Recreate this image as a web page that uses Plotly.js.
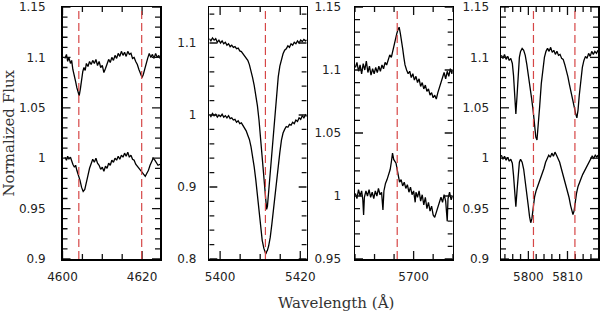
<!DOCTYPE html>
<html>
<head>
<meta charset="utf-8">
<script src="https://cdn.plot.ly/plotly-3.0.1.min.js"></script>
<style>html,body{margin:0;padding:0;background:#fff;}#chart{width:600px;height:313px;}</style>
</head>
<body>
<div id="chart"></div>
<script>
// ---------- Panel 1 (N V 4604, 4620) ----------
const p1TopWave = [4600.6,4601.0,4601.3,4601.6,4602.0,4602.3,4602.6,4603.0,4603.3,4603.6,4603.9,4604.2,4604.5,4604.8,4605.1,4605.4,4605.7,4606.0,4606.4,4606.8,4607.2,4607.6,4608.0,4608.4,4608.8,4609.2,4609.6,4610.0,4610.4,4610.8,4611.2,4611.6,4612.0,4612.4,4612.8,4613.2,4613.6,4614.0,4614.4,4614.8,4615.2,4615.6,4616.0,4616.4,4616.8,4617.2,4617.6,4618.0,4618.4,4618.8,4619.2,4619.6,4620.0,4620.3,4620.6,4621.0,4621.4,4621.8,4622.2,4622.6,4623.0,4623.4,4623.8,4624.2,4624.5];
const p1TopFlux = [1.099,1.103,1.096,1.100,1.094,1.097,1.088,1.082,1.076,1.070,1.066,1.062,1.069,1.078,1.086,1.090,1.087,1.094,1.091,1.096,1.093,1.097,1.094,1.098,1.092,1.096,1.090,1.092,1.085,1.089,1.094,1.098,1.095,1.100,1.097,1.102,1.099,1.104,1.101,1.106,1.102,1.105,1.101,1.106,1.103,1.104,1.099,1.100,1.096,1.093,1.088,1.083,1.080,1.083,1.088,1.094,1.099,1.104,1.100,1.103,1.099,1.104,1.100,1.102,1.099];
const p1BotWave = [4600.6,4601.0,4601.3,4601.6,4602.0,4602.3,4602.6,4603.0,4603.3,4603.6,4604.0,4604.4,4604.8,4605.2,4605.6,4606.0,4606.4,4606.8,4607.2,4607.6,4608.0,4608.4,4608.8,4609.2,4609.6,4610.0,4610.4,4610.8,4611.2,4611.6,4612.0,4612.4,4612.8,4613.2,4613.6,4614.0,4614.4,4614.8,4615.2,4615.6,4616.0,4616.4,4616.8,4617.2,4617.6,4618.0,4618.4,4618.8,4619.2,4619.6,4620.0,4620.4,4620.8,4621.2,4621.6,4622.0,4622.4,4622.8,4623.2,4623.6,4624.0,4624.5];
const p1BotFlux = [1.001,0.998,1.002,0.999,1.001,0.996,0.994,0.991,0.993,0.988,0.984,0.978,0.971,0.967,0.969,0.975,0.983,0.990,0.994,0.999,0.996,1.000,0.995,0.993,0.989,0.991,0.987,0.992,0.990,0.995,0.993,0.998,0.996,1.000,0.998,1.002,0.999,1.003,1.001,1.005,1.002,1.006,1.001,1.003,0.999,0.998,0.994,0.992,0.990,0.987,0.986,0.983,0.982,0.985,0.988,0.993,0.997,1.000,0.998,0.995,0.993,0.994];
const p1Lines = [4604.1, 4619.9];
const p1XTicks = [4600, 4620];
const p1YTicks = [0.9, 0.95, 1, 1.05, 1.1, 1.15];
const p1YLabels = ["0.9", "0.95", "1", "1.05", "1.1", "1.15"];

// ---------- Panel 2 (He II 5411) ----------
const p2TopWave = [5397.3,5397.7,5398.1,5398.5,5398.9,5399.3,5399.7,5400.1,5400.5,5400.9,5401.3,5401.7,5402.1,5402.5,5402.9,5403.3,5403.7,5404.1,5404.5,5404.9,5405.3,5405.7,5406.1,5406.5,5406.9,5407.3,5407.7,5408.1,5408.5,5408.9,5409.3,5409.7,5410.1,5410.5,5410.9,5411.2,5411.4,5411.6,5411.8,5412.0,5412.2,5412.5,5412.9,5413.3,5413.7,5414.1,5414.5,5414.9,5415.3,5415.7,5416.1,5416.5,5416.9,5417.3,5417.7,5418.1,5418.5,5418.9,5419.3,5419.7,5420.1,5420.5,5420.9,5421.3,5421.6];
const p2TopFlux = [1.106,1.103,1.107,1.104,1.106,1.101,1.104,1.100,1.103,1.099,1.101,1.097,1.099,1.095,1.097,1.094,1.095,1.092,1.093,1.089,1.088,1.085,1.083,1.080,1.076,1.070,1.062,1.052,1.041,1.029,1.013,0.993,0.968,0.940,0.911,0.892,0.878,0.869,0.873,0.886,0.899,0.918,0.950,0.978,1.000,1.030,1.053,1.068,1.078,1.085,1.090,1.092,1.096,1.094,1.099,1.097,1.101,1.099,1.103,1.100,1.104,1.102,1.105,1.103,1.104];
const p2BotWave = [5397.3,5397.7,5398.1,5398.5,5398.9,5399.3,5399.7,5400.1,5400.5,5400.9,5401.3,5401.7,5402.1,5402.5,5402.9,5403.3,5403.7,5404.1,5404.5,5404.9,5405.3,5405.7,5406.1,5406.5,5406.9,5407.3,5407.7,5408.1,5408.5,5408.9,5409.3,5409.7,5410.1,5410.5,5410.9,5411.2,5411.4,5411.6,5411.8,5412.1,5412.5,5412.9,5413.3,5413.7,5414.1,5414.5,5414.9,5415.3,5415.7,5416.1,5416.5,5416.9,5417.3,5417.7,5418.1,5418.5,5418.9,5419.3,5419.7,5420.1,5420.5,5420.9,5421.3,5421.6];
const p2BotFlux = [1.001,0.998,1.002,0.999,1.001,0.997,1.000,0.998,1.001,0.997,0.999,0.996,0.999,0.995,0.996,0.993,0.994,0.990,0.992,0.988,0.989,0.985,0.983,0.978,0.972,0.966,0.956,0.943,0.928,0.910,0.890,0.866,0.843,0.826,0.815,0.810,0.807,0.810,0.812,0.818,0.830,0.848,0.870,0.892,0.912,0.930,0.948,0.965,0.975,0.980,0.984,0.983,0.987,0.986,0.990,0.988,0.993,0.991,0.996,0.994,0.999,0.996,1.000,0.998];
const p2Lines = [5411.3];
const p2XTicks = [5400, 5420];
const p2YTicks = [0.8, 0.9, 1, 1.1];
const p2YLabels = ["0.8", "0.9", "1", "1.1"];

// ---------- Panel 3 (C III 5696) ----------
const p3TopWave = [5670.2,5671.0,5671.8,5672.6,5673.4,5674.2,5675.0,5675.8,5676.6,5677.4,5678.2,5679.0,5679.8,5680.6,5681.4,5682.2,5683.0,5683.8,5684.6,5685.4,5686.2,5687.0,5687.8,5688.6,5689.4,5690.2,5690.8,5691.4,5692.0,5692.6,5693.2,5693.8,5694.4,5695.0,5695.6,5696.4,5697.2,5698.0,5698.8,5699.6,5700.4,5701.2,5702.0,5702.8,5703.6,5704.4,5705.2,5706.0,5706.8,5707.6,5708.4,5709.2,5710.0,5710.8,5711.6,5712.4,5713.2,5714.0,5714.8,5715.6,5716.4,5717.2,5718.0,5718.8,5719.6,5720.0];
const p3TopFlux = [1.102,1.106,1.099,1.104,1.097,1.105,1.100,1.107,1.098,1.103,1.096,1.101,1.097,1.102,1.098,1.103,1.099,1.104,1.101,1.106,1.104,1.108,1.112,1.110,1.116,1.121,1.125,1.129,1.132,1.134,1.129,1.124,1.117,1.110,1.104,1.100,1.097,1.099,1.094,1.097,1.092,1.095,1.090,1.093,1.087,1.090,1.085,1.088,1.083,1.085,1.080,1.082,1.078,1.080,1.077,1.082,1.086,1.091,1.094,1.098,1.093,1.099,1.095,1.101,1.097,1.100];
const p3BotWave = [5670.2,5671.0,5671.8,5672.6,5673.4,5674.0,5674.4,5674.8,5675.6,5676.4,5677.2,5678.0,5678.8,5679.6,5680.4,5681.2,5682.0,5682.8,5683.6,5684.3,5684.8,5685.6,5686.4,5687.2,5688.0,5688.6,5689.2,5689.8,5690.4,5691.0,5691.6,5692.2,5692.8,5693.6,5694.4,5695.2,5696.0,5696.8,5697.6,5698.4,5699.2,5700.0,5700.8,5701.2,5702.0,5702.8,5703.6,5704.4,5705.2,5706.0,5706.8,5707.6,5708.4,5709.2,5710.0,5710.8,5711.6,5712.4,5713.2,5714.0,5714.8,5715.6,5716.4,5717.2,5717.6,5718.4,5719.2,5720.0];
const p3BotFlux = [1.002,0.998,1.005,1.000,1.004,0.997,0.985,0.999,1.004,1.000,1.005,0.999,1.003,0.998,1.004,1.000,1.006,1.001,1.003,0.989,1.004,1.010,1.013,1.017,1.021,1.027,1.034,1.029,1.027,1.026,1.021,1.015,1.011,1.013,1.008,1.011,1.006,1.009,1.003,1.007,1.001,1.004,0.995,1.003,0.999,1.004,0.996,1.001,0.993,0.999,0.990,0.995,0.988,0.992,0.985,0.983,0.987,0.991,0.994,0.999,0.995,1.001,0.996,0.980,0.998,1.003,0.997,1.000];
const p3Lines = [5691.6];
const p3XTicks = [5700];
const p3YTicks = [0.95, 1, 1.05, 1.1, 1.15];
const p3YLabels = ["0.95", "1", "1.05", "1.1", "1.15"];

// ---------- Panel 4 (C IV 5801, 5812) ----------
const p4TopWave = [5793.1,5793.5,5793.9,5794.3,5794.7,5795.1,5795.5,5795.9,5796.2,5796.5,5796.8,5797.1,5797.4,5797.7,5798.0,5798.4,5798.8,5799.2,5799.6,5800.0,5800.4,5800.8,5801.2,5801.6,5801.9,5802.2,5802.5,5802.9,5803.3,5803.7,5804.1,5804.5,5804.9,5805.3,5805.7,5806.1,5806.5,5806.9,5807.3,5807.7,5808.1,5808.5,5808.9,5809.3,5809.7,5810.1,5810.5,5810.9,5811.3,5811.7,5812.1,5812.4,5812.7,5813.0,5813.4,5813.8,5814.2,5814.6,5815.0,5815.4,5815.8,5816.2,5816.6,5817.0,5817.4,5817.8];
const p4TopFlux = [1.102,1.099,1.103,1.098,1.101,1.097,1.099,1.094,1.082,1.062,1.044,1.062,1.087,1.100,1.106,1.109,1.107,1.102,1.093,1.083,1.071,1.060,1.048,1.034,1.021,1.018,1.030,1.052,1.074,1.090,1.100,1.106,1.109,1.106,1.110,1.105,1.107,1.103,1.106,1.102,1.103,1.099,1.098,1.093,1.088,1.081,1.073,1.065,1.058,1.051,1.044,1.040,1.048,1.062,1.078,1.090,1.097,1.101,1.099,1.104,1.101,1.106,1.103,1.106,1.104,1.107];
const p4BotWave = [5793.1,5793.5,5793.9,5794.3,5794.7,5795.1,5795.5,5795.9,5796.2,5796.5,5796.8,5797.1,5797.4,5797.7,5798.0,5798.4,5798.8,5799.2,5799.6,5800.0,5800.3,5800.6,5800.9,5801.2,5801.6,5802.0,5802.4,5802.8,5803.2,5803.6,5804.0,5804.4,5804.8,5805.2,5805.6,5806.0,5806.4,5806.8,5807.2,5807.6,5808.0,5808.4,5808.8,5809.2,5809.6,5810.0,5810.4,5810.8,5811.1,5811.4,5811.7,5812.0,5812.3,5812.7,5813.1,5813.5,5813.9,5814.3,5814.7,5815.1,5815.5,5815.9,5816.3,5816.7,5817.1,5817.5,5817.8];
const p4BotFlux = [1.003,0.999,1.002,0.998,1.001,0.997,0.999,0.995,0.983,0.965,0.952,0.968,0.985,0.996,0.999,0.996,0.989,0.978,0.965,0.952,0.942,0.936,0.940,0.950,0.962,0.968,0.972,0.976,0.980,0.985,0.990,0.996,1.000,1.003,1.001,1.005,1.002,1.006,1.003,1.000,0.996,0.990,0.984,0.979,0.973,0.968,0.961,0.953,0.947,0.944,0.948,0.957,0.965,0.972,0.977,0.980,0.984,0.987,0.990,0.994,0.997,0.999,1.002,1.000,1.003,1.001,1.003];
const p4Lines = [5801.3, 5811.9];
const p4XTicks = [5800, 5810];
const p4YTicks = [0.9, 0.95, 1, 1.05, 1.1, 1.15];
const p4YLabels = ["0.9", "0.95", "1", "1.05", "1.1", "1.15"];

const yTitle = "Normalized Flux";
const xTitle = "Wavelength (Å)";

// ---------- Build ----------
const W = 600, H = 313;
const panels = [
  {top:[p1TopWave,p1TopFlux], bot:[p1BotWave,p1BotFlux], lines:p1Lines, xt:p1XTicks, yt:p1YTicks, yl:p1YLabels,
   px:[62.5,160], xr:[4600,4624.5], yr:[0.9,1.15], xminor:5, yminor:0.01, ystand:13},
  {top:[p2TopWave,p2TopFlux], bot:[p2BotWave,p2BotFlux], lines:p2Lines, xt:p2XTicks, yt:p2YTicks, yl:p2YLabels,
   px:[209.3,306.7], xr:[5397.3,5421.6], yr:[0.8,1.15], xminor:5, yminor:0.02, ystand:9},
  {top:[p3TopWave,p3TopFlux], bot:[p3BotWave,p3BotFlux], lines:p3Lines, xt:p3XTicks, yt:p3YTicks, yl:p3YLabels,
   px:[355,452.7], xr:[5670,5720], yr:[0.95,1.15], xminor:10, yminor:0.01, ystand:10},
  {top:[p4TopWave,p4TopFlux], bot:[p4BotWave,p4BotFlux], lines:p4Lines, xt:p4XTicks, yt:p4YTicks, yl:p4YLabels,
   px:[501,598], xr:[5793,5817.8], yr:[0.9,1.15], xminor:2, yminor:0.01, ystand:8}
];

const tickFont = {family:"DejaVu Sans", size:12, color:"#222"};
const yPx = [7, 259];
const yDom = [(H-yPx[1])/H, (H-yPx[0])/H];
const MAJ = 8, MIN = 5;
const data = [], shapes = [];
const layout = {
  width:W, height:H, margin:{l:0,r:0,t:0,b:0}, showlegend:false,
  paper_bgcolor:"#fff", plot_bgcolor:"rgba(0,0,0,0)",
  annotations:[
    {text:yTitle, xref:"paper", yref:"paper", x:8.5/W, y:(H-133)/H, textangle:-90, showarrow:false,
     font:{family:"DejaVu Serif", size:15, color:"#333"}, xanchor:"center", yanchor:"middle"},
    {text:xTitle, xref:"paper", yref:"paper", x:336/W, y:(H-303)/H, showarrow:false,
     font:{family:"DejaVu Serif", size:15, color:"#333"}, xanchor:"center", yanchor:"middle"}
  ],
  shapes:shapes
};

// tick positions between range ends at a given step (axis decoration, not data)
function stepVals(r, step){
  const out = [];
  const k0 = Math.ceil(r[0]/step - 1e-9), k1 = Math.floor(r[1]/step + 1e-9);
  for (let k=k0; k<=k1; k++) out.push(+(k*step).toFixed(6));
  return out;
}

panels.forEach((p,i)=>{
  const n = i===0 ? "" : String(i+1);
  const xa = "x"+n, ya = "y"+n;
  const wPx = p.px[1]-p.px[0], hPx = yPx[1]-yPx[0];
  const xUnit = (p.xr[1]-p.xr[0])/wPx, yUnit = (p.yr[1]-p.yr[0])/hPx;
  [p.top, p.bot].forEach(s=>{
    data.push({x:s[0], y:s[1], xaxis:xa, yaxis:ya, type:"scatter", mode:"lines",
      line:{color:"#000", width:1.3}, hoverinfo:"skip"});
  });
  p.lines.forEach(lx=>{
    shapes.push({type:"line", xref:xa, yref:ya+" domain", x0:lx, x1:lx, y0:0, y1:1,
      line:{color:"rgb(214,70,70)", width:1.2, dash:"8px,4px"}, layer:"above"});
  });
  // frame tick marks (inside, all four sides) drawn through the axis scales
  const tx = [], ty = [];
  stepVals(p.xr, p.xminor).forEach(v=>{
    const major = p.xt.some(t=>Math.abs(t-v)<1e-6);
    const d = (major?MAJ:MIN)*yUnit;
    tx.push(v, v, null, v, v, null);
    ty.push(p.yr[0], p.yr[0]+d, null, p.yr[1]-d, p.yr[1], null);
  });
  stepVals(p.yr, p.yminor).forEach(v=>{
    const major = p.yt.some(t=>Math.abs(t-v)<1e-6);
    const d = (major?MAJ:MIN)*xUnit;
    tx.push(p.xr[0], p.xr[0]+d, null, p.xr[1]-d, p.xr[1], null);
    ty.push(v, v, null, v, v, null);
  });
  data.push({x:tx, y:ty, xaxis:xa, yaxis:ya, type:"scatter", mode:"lines", connectgaps:false,
    line:{color:"#111", width:1.3}, hoverinfo:"skip", cliponaxis:false});
  layout["xaxis"+n] = {
    domain:[p.px[0]/W, p.px[1]/W], range:p.xr, anchor:ya,
    tickmode:"array", tickvals:p.xt, ticktext:p.xt.map(String), ticks:"",
    showline:true, linecolor:"#000", linewidth:1.5, mirror:true,
    showgrid:false, zeroline:false, tickfont:tickFont, ticklabelstandoff:6, fixedrange:true
  };
  layout["yaxis"+n] = {
    domain:yDom, range:p.yr, anchor:xa,
    tickmode:"array", tickvals:p.yt, ticktext:p.yl, ticks:"",
    showline:true, linecolor:"#000", linewidth:1.5, mirror:true,
    showgrid:false, zeroline:false, tickfont:tickFont, ticklabelstandoff:p.ystand, fixedrange:true
  };
});

Plotly.newPlot("chart", data, layout, {staticPlot:true, displayModeBar:false});
</script>
</body>
</html>
